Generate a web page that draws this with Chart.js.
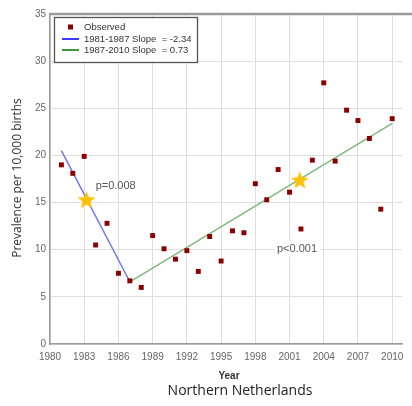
<!DOCTYPE html>
<html><head><meta charset="utf-8">
<script src="https://cdn.jsdelivr.net/npm/chart.js@4/dist/chart.umd.min.js"></script>
<style>html,body{margin:0;padding:0;background:#fff}#wrap{width:412px;height:406px}</style>
</head><body><div id="wrap"><canvas id="c" width="412" height="406"></canvas></div>
<script>
const years = [1981,1982,1983,1984,1985,1986,1987,1988,1989,1990,1991,1992,1993,1994,1995,1996,1997,1998,1999,2000,2001,2002,2003,2004,2005,2006,2007,2008,2009,2010];
const observed = [19.0,18.1,19.9,10.5,12.8,7.5,6.7,6.0,11.5,10.1,9.0,9.9,7.7,11.4,8.8,12.0,11.8,17.0,15.3,18.5,16.1,12.2,19.5,27.7,19.4,24.8,23.7,21.8,14.3,23.9];
const trend1Years = [1981,1987];
const trend1Values = [20.5,6.6];
const trend2Years = [1987,2010];
const trend2Values = [6.6,23.4];
const starYears = [1983.2,2001.9];
const starValues = [15.3,17.4];
const xTicks = [1980,1983,1986,1989,1992,1995,1998,2001,2004,2007,2010];
const yTicks = [0,5,10,15,20,25,30,35];
const labels = ['Observed','1981-1987 Slope  = -2.34','1987-2010 Slope  = 0.73'];
const annotations = [{x:1984.0,y:16.8,text:'p=0.008',bg:false},{x:1999.9,y:10.1,text:'p<0.001',bg:true}];

const zip = (xs, ys) => xs.map((x,i)=>({x:x,y:ys[i]}));

// filled star image
function starImg(size,color){
  const c=document.createElement('canvas');c.width=size;c.height=size;
  const g=c.getContext('2d');const cx=size/2,cy=size/2+0.8,R=size/2,r=R*0.42;
  g.beginPath();
  for(let i=0;i<10;i++){const a=-Math.PI/2+i*Math.PI/5;const rr=i%2?r:R;g.lineTo(cx+rr*Math.cos(a),cy+rr*Math.sin(a));}
  g.closePath();g.fillStyle=color;g.fill();return c;
}
const star = starImg(19,'#FFC000');

const red='#8B0000', blue='#7474F2', green='#7DBA7D';

const overlay = {
  id:'overlay',
  afterDraw(chart){
    const ctx=chart.ctx, a=chart.chartArea, xs=chart.scales.x, ys=chart.scales.y;
    ctx.save();
    // top frame
    ctx.strokeStyle='#9a9a9a';ctx.lineWidth=2.5;
    ctx.beginPath();ctx.moveTo(a.left,a.top);ctx.lineTo(412,a.top);ctx.stroke();
    // annotations
    ctx.font='11px "Liberation Sans", Arial, sans-serif';ctx.textBaseline='middle';ctx.textAlign='left';
    annotations.forEach(an=>{
      const px=xs.getPixelForValue(an.x), py=ys.getPixelForValue(an.y);
      const w=ctx.measureText(an.text).width;
      if(an.bg){ctx.fillStyle='#fff';ctx.fillRect(px-2,py-8,w+5,16);}
      ctx.fillStyle='#555';ctx.fillText(an.text,px,py);
    });
    // legend box
    const lx=a.left+4, ly=a.top+3, lw=143, lh=45;
    ctx.fillStyle='#fff';ctx.fillRect(lx,ly,lw,lh);
    ctx.strokeStyle='#555';ctx.lineWidth=1.3;ctx.strokeRect(lx+0.5,ly+0.5,lw,lh);
    ctx.font='9.5px "Liberation Sans", Arial, sans-serif';ctx.fillStyle='#333';
    const ds=chart.data.datasets;
    const rows=[ly+10,ly+22,ly+33];
    // observed marker
    ctx.fillStyle=ds[0].backgroundColor;ctx.fillRect(lx+14,rows[0]-2.5,5,5);
    ctx.lineWidth=2;
    ctx.strokeStyle='#3B3BFF';ctx.beginPath();ctx.moveTo(lx+8,rows[1]);ctx.lineTo(lx+25,rows[1]);ctx.stroke();
    ctx.strokeStyle='#3A9A3A';ctx.beginPath();ctx.moveTo(lx+8,rows[2]);ctx.lineTo(lx+25,rows[2]);ctx.stroke();
    ctx.fillStyle='#333';
    labels.forEach((t,i)=>ctx.fillText(t,lx+30,rows[i]));
    // axis titles
    ctx.fillStyle='#333';ctx.textAlign='center';
    ctx.font='bold 10px "Liberation Sans", Arial, sans-serif';
    ctx.fillText('Year',229,376);
    ctx.font='14px "Open Sans", sans-serif';ctx.fillStyle='#222';
    ctx.fillText('Northern Netherlands',240,391);
    ctx.save();ctx.translate(18,178);ctx.rotate(-Math.PI/2);
    ctx.font='12px "Open Sans", sans-serif';ctx.fillStyle='#333';
    ctx.fillText('Prevalence per 10,000 births',0,0);
    ctx.restore();
    ctx.restore();
  }
};

new Chart(document.getElementById('c'),{
  type:'scatter',
  data:{datasets:[
    {label:labels[0],data:zip(years,observed),backgroundColor:red,borderColor:red,pointStyle:'rect',pointRadius:3.5,borderWidth:0,order:1},
    {label:labels[1],data:zip(trend1Years,trend1Values),showLine:true,borderColor:blue,borderWidth:1.5,pointRadius:0,order:3},
    {label:labels[2],data:zip(trend2Years,trend2Values),showLine:true,borderColor:green,borderWidth:1.5,pointRadius:0,order:3},
    {label:'stars',data:zip(starYears,starValues),pointStyle:star,pointRadius:9,order:0}
  ]},
  options:{
    responsive:false,animation:false,
    layout:{padding:{top:14,right:0,left:0,bottom:0}},
    plugins:{legend:{display:false},tooltip:{enabled:false}},
    scales:{
      x:{type:'linear',min:1980,max:2010.86,
        afterBuildTicks:s=>{s.ticks=xTicks.map(v=>({value:v}));},
        afterFit:s=>{s.height=62;},
        grid:{color:'#dedede',lineWidth:1,drawTicks:false},
        border:{color:'#9a9a9a',width:1.5},
        ticks:{color:'#666',font:{size:10,family:'"Liberation Sans", Arial, sans-serif'},padding:7,maxRotation:0,autoSkip:false,callback:v=>String(v)}
      },
      y:{min:0,max:35,
        afterBuildTicks:s=>{s.ticks=yTicks.map(v=>({value:v}));},
        afterFit:s=>{s.width=50;},
        grid:{color:'#dedede',lineWidth:1,drawTicks:false},
        border:{color:'#9a9a9a',width:1.5},
        ticks:{color:'#666',font:{size:10,family:'"Liberation Sans", Arial, sans-serif'},padding:4,callback:v=>String(v)}
      }
    }
  },
  plugins:[overlay]
});
</script></body></html>
